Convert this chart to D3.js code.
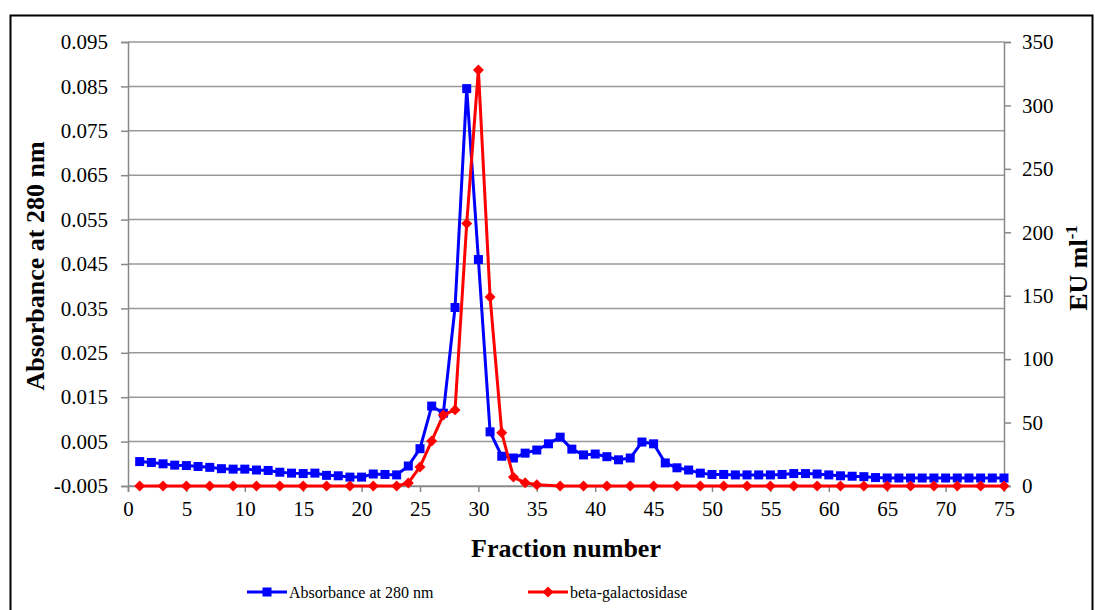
<!DOCTYPE html>
<html>
<head>
<meta charset="utf-8">
<script src="https://cdn.jsdelivr.net/npm/d3@7"></script>
<style>
  body { margin: 0; background: #fff; }
  svg { display: block; }
  svg text { font-family: "Liberation Serif", "Times New Roman", serif; }
</style>
</head>
<body>
<script>
'use strict';

// fraction numbers and absorbance readings (left axis)
const absFractions = d3.range(1, 76);
const absorbance = [
  0.0005, 0.0003, 0.0000, -0.0003, -0.0004, -0.0006, -0.0008, -0.0011, -0.0012, -0.0012,
  -0.0014, -0.0015, -0.0019, -0.0021, -0.0022, -0.0021, -0.0026, -0.0027, -0.0030, -0.0030,
  -0.0023, -0.0024, -0.0025, -0.0005, 0.0034, 0.0130, 0.0114, 0.0352, 0.0845, 0.0460,
  0.0072, 0.0017, 0.0013, 0.0024, 0.0031, 0.0045, 0.0060, 0.0033, 0.0020, 0.0022,
  0.0016, 0.0009, 0.0013, 0.0049, 0.0045, 0.0002, -0.0009, -0.0014, -0.0021, -0.0024,
  -0.0024, -0.0025, -0.0025, -0.0025, -0.0025, -0.0024, -0.0022, -0.0022, -0.0023, -0.0025,
  -0.0027, -0.0028, -0.0029, -0.0031, -0.0032, -0.0032, -0.0032, -0.0032, -0.0032, -0.0032,
  -0.0032, -0.0032, -0.0032, -0.0032, -0.0032
];

// beta-galactosidase activity (right axis, EU/ml)
const galFractions = [1, 3, 5, 7, 9, 11, 13, 15, 17, 19, 21, 23, 24, 25, 26, 27, 28, 29, 30, 31,
  32, 33, 34, 35, 37, 39, 41, 43, 45, 47, 49, 51, 53, 55, 57, 59, 61, 63, 65, 67, 69, 71, 73, 75];
const galActivity = [0, 0, 0, 0, 0, 0, 0, 0, 0, 0, 0, 0, 2.4, 15, 35.5, 56, 60, 207, 328, 149,
  42, 7, 2.5, 1, 0, 0, 0, 0, 0, 0, 0, 0, 0, 0, 0, 0, 0, 0, 0, 0, 0, 0, 0, 0];

const leftTicks = d3.range(0, 11).map(i => -0.005 + i * 0.01);
const rightTicks = [0, 50, 100, 150, 200, 250, 300, 350];
const xTicks = d3.range(0, 80, 5);

const seriesNames = ["Absorbance at 280 nm", "beta-galactosidase"];
const seriesColors = ["#0000ff", "#ff0000"];

const serif = '"Liberation Serif", "Times New Roman", serif';

const svg = d3.select('body').append('svg')
  .attr('width', 1095)
  .attr('height', 610)
  .attr('font-family', serif);

const plotLeft = 128, plotRight = 1004, plotTop = 42, plotBottom = 486;

const x = d3.scaleLinear().domain([0, 75]).range([plotLeft, plotRight]);
const yLeft = d3.scaleLinear().domain([-0.005, 0.095]).range([plotBottom, plotTop]);
const yRight = d3.scaleLinear().domain([0, 350]).range([plotBottom, plotTop]);

// outer frame
svg.append('rect')
  .attr('x', 10.5).attr('y', 15.5)
  .attr('width', 1082).attr('height', 620)
  .attr('fill', 'none')
  .attr('stroke', '#000')
  .attr('stroke-width', 2);

// gridlines
svg.append('g')
  .selectAll('line')
  .data(leftTicks)
  .join('line')
  .attr('x1', plotLeft).attr('x2', plotRight)
  .attr('y1', d => yLeft(d)).attr('y2', d => yLeft(d))
  .attr('stroke', '#999')
  .attr('stroke-width', 1.5);

const fmtLeft = v => d3.format('.3f')(Math.round(v * 1000) / 1000).replace('\u2212', '-');

// left axis
const gLeft = svg.append('g')
  .attr('transform', `translate(${plotLeft},0)`)
  .call(d3.axisLeft(yLeft).tickValues(leftTicks).tickFormat(fmtLeft).tickSize(7).tickPadding(13));

// right axis
const gRight = svg.append('g')
  .attr('transform', `translate(${plotRight},0)`)
  .call(d3.axisRight(yRight).tickValues(rightTicks).tickSize(7).tickPadding(11));

// bottom axis
const gBottom = svg.append('g')
  .attr('transform', `translate(0,${plotBottom})`)
  .call(d3.axisBottom(x).tickValues(xTicks).tickSize(6).tickPadding(9));

[gLeft, gRight, gBottom].forEach(g => {
  g.attr('font-family', serif).attr('font-size', 21);
  g.select('.domain').attr('stroke', '#888').attr('stroke-width', 1.5);
  g.selectAll('.tick line').attr('stroke', '#888').attr('stroke-width', 1.5);
  g.selectAll('.tick text').attr('fill', '#000');
});

// absorbance series
const absData = absFractions.map((f, i) => [f, absorbance[i]]);
svg.append('path')
  .datum(absData)
  .attr('fill', 'none')
  .attr('stroke', seriesColors[0])
  .attr('stroke-width', 3)
  .attr('stroke-linejoin', 'round')
  .attr('d', d3.line().x(d => x(d[0])).y(d => yLeft(d[1])));

svg.append('g')
  .selectAll('rect')
  .data(absData)
  .join('rect')
  .attr('x', d => x(d[0]) - 4.5)
  .attr('y', d => yLeft(d[1]) - 4.5)
  .attr('width', 9).attr('height', 9)
  .attr('fill', seriesColors[0]);

// beta-galactosidase series
const galData = galFractions.map((f, i) => [f, galActivity[i]]);
svg.append('path')
  .datum(galData)
  .attr('fill', 'none')
  .attr('stroke', seriesColors[1])
  .attr('stroke-width', 3)
  .attr('stroke-linejoin', 'round')
  .attr('d', d3.line().x(d => x(d[0])).y(d => yRight(d[1])));

svg.append('g')
  .selectAll('path')
  .data(galData)
  .join('path')
  .attr('transform', d => `translate(${x(d[0])},${yRight(d[1])}) rotate(45)`)
  .attr('d', d3.symbol().type(d3.symbolSquare).size(60))
  .attr('fill', seriesColors[1]);

// axis titles
svg.append('text')
  .attr('transform', 'translate(44,266) rotate(-90)')
  .attr('text-anchor', 'middle')
  .style('font-size', '26px')
  .style('font-weight', 'bold')
  .text('Absorbance at 280 nm');

const rightTitle = svg.append('text')
  .attr('transform', 'translate(1087,268) rotate(-90)')
  .attr('text-anchor', 'middle')
  .style('font-size', '26px')
  .style('font-weight', 'bold');
rightTitle.append('tspan').text('EU ml');
rightTitle.append('tspan').attr('dy', -10).style('font-size', '17px').text('-1');

svg.append('text')
  .attr('x', (plotLeft + plotRight) / 2)
  .attr('y', 557)
  .attr('text-anchor', 'middle')
  .style('font-size', '26px')
  .style('font-weight', 'bold')
  .text('Fraction number');

// legend
const legendX = [247, 528];
seriesNames.forEach((name, i) => {
  const lg = svg.append('g').attr('transform', `translate(${legendX[i]},592)`);
  lg.append('line')
    .attr('x1', 0).attr('x2', 40)
    .attr('stroke', seriesColors[i])
    .attr('stroke-width', 3);
  if (i === 0) {
    lg.append('rect').attr('x', 15.5).attr('y', -4.5).attr('width', 9).attr('height', 9)
      .attr('fill', seriesColors[i]);
  } else {
    lg.append('path').attr('transform', 'translate(20,0) rotate(45)')
      .attr('d', d3.symbol().type(d3.symbolSquare).size(60))
      .attr('fill', seriesColors[i]);
  }
  lg.append('text')
    .attr('x', 42).attr('y', 6)
    .style('font-size', '16px')
    .text(name);
});
</script>
</body>
</html>
